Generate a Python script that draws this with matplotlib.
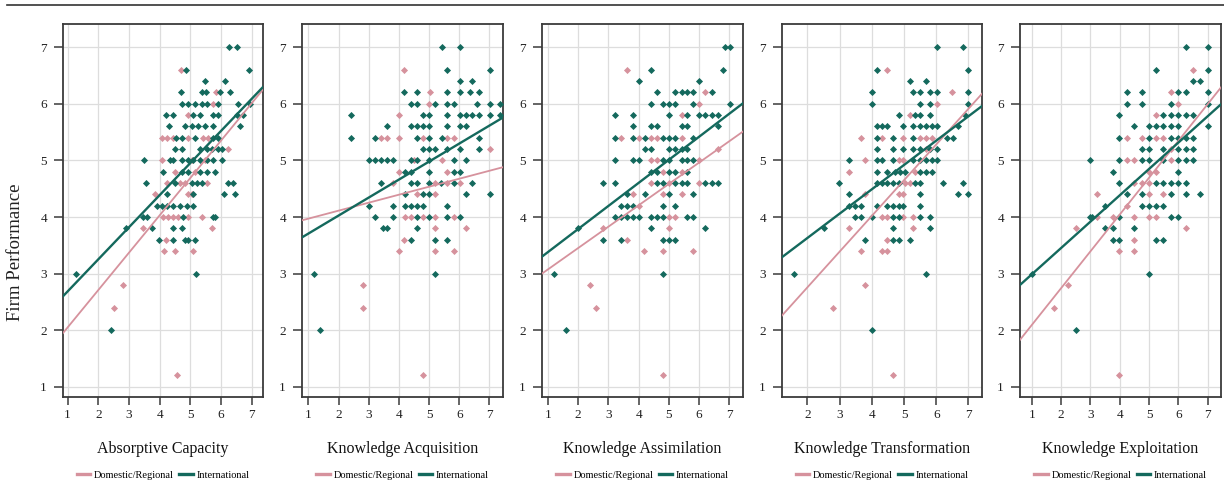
import matplotlib
matplotlib.use("Agg")
import matplotlib.pyplot as plt
from matplotlib.lines import Line2D
import numpy as np

plt.rcParams['font.family'] = ['Liberation Serif', 'DejaVu Serif']

# ---------------- data ----------------
panel_titles = ["Absorptive Capacity", "Knowledge Acquisition", "Knowledge Assimilation",
                "Knowledge Transformation", "Knowledge Exploitation"]
y_label = "Firm Performance"
group_labels = ["Domestic/Regional", "International"]
y_ticks = [1, 2, 3, 4, 5, 6, 7]
x_ticks_per_panel = [[1, 2, 3, 4, 5, 6, 7], [1, 2, 3, 4, 5, 6, 7], [1, 2, 3, 4, 5, 6, 7],
                     [2, 3, 4, 5, 6, 7], [1, 2, 3, 4, 5, 6, 7]]

# scatter points: {firm performance: [x values]}
ac_int = {7.0: [6.27, 6.51], 6.6: [4.85, 6.92], 6.4: [5.48, 6.13],
          6.2: [4.70, 5.37, 5.51, 5.97, 6.29],
          6.0: [4.72, 4.93, 5.15, 5.37, 5.53, 5.91, 6.57, 6.94],
          5.8: [4.21, 4.45, 5.10, 5.32, 5.75, 5.91, 6.51, 6.73],
          5.6: [4.32, 4.83, 5.04, 5.26, 5.48, 5.75, 6.62],
          5.4: [4.55, 4.72, 5.15, 5.75, 5.91],
          5.2: [4.50, 4.72, 5.32, 5.53, 5.70, 5.91, 6.02],
          5.0: [3.49, 4.34, 4.45, 4.72, 4.93, 5.10, 5.32, 5.53, 5.75, 6.02],
          4.8: [4.12, 4.72, 4.93, 5.32, 5.53, 5.80],
          4.6: [3.54, 4.50, 5.04, 5.21, 5.37, 6.24, 6.40],
          4.4: [4.23, 5.10, 6.10, 6.46],
          4.2: [3.90, 4.07, 4.23, 4.45, 4.66, 4.88, 5.10],
          4.0: [3.47, 3.58, 4.77, 5.75, 5.80],
          3.8: [2.92, 3.74, 4.45, 4.72],
          3.6: [3.98, 4.45, 4.83, 4.93, 5.15],
          3.0: [1.27, 5.17], 2.0: [2.41]}
ac_dom = {6.6: [4.70], 6.2: [5.84], 6.0: [5.75], 5.8: [4.93],
          5.4: [4.07, 4.23, 4.45, 4.93, 5.42, 5.59], 5.2: [6.24],
          5.0: [4.07, 5.04, 5.48], 4.8: [4.50, 5.15], 4.6: [4.23, 4.66, 4.83, 5.53],
          4.4: [3.85, 4.93, 5.04], 4.0: [4.12, 4.28, 4.45, 4.61, 4.93, 5.37],
          3.8: [3.47, 5.70], 3.6: [4.20], 3.4: [4.15, 4.50, 5.10],
          2.8: [2.82], 2.4: [2.51], 1.2: [4.58]}

ka_int = {7.0: [5.42, 6.03], 6.6: [5.61, 7.02], 6.4: [6.01, 6.41],
          6.2: [4.18, 4.59, 5.61, 6.01, 6.34, 6.64],
          6.0: [4.39, 4.59, 5.20, 5.61, 5.81, 6.60, 7.02, 7.35],
          5.8: [2.40, 4.79, 5.01, 5.61, 6.03, 6.23, 6.43, 6.65, 7.02, 7.35],
          5.6: [3.60, 4.39, 4.59, 4.81, 5.01, 5.61, 6.03, 6.23],
          5.4: [2.40, 3.21, 4.59, 5.01, 5.42, 6.64],
          5.2: [4.79, 5.01, 5.20, 5.61, 6.03, 6.64],
          5.0: [3.00, 3.20, 3.40, 3.60, 3.80, 4.39, 4.59, 5.01, 5.81, 6.23],
          4.8: [4.20, 4.39, 5.01, 5.81, 6.03],
          4.6: [3.40, 4.39, 4.59, 5.01, 5.41, 5.81, 6.41],
          4.4: [4.20, 4.81, 5.01, 6.23, 7.02],
          4.2: [3.00, 3.80, 4.20, 4.39, 4.59, 4.81, 5.61],
          4.0: [3.20, 3.80, 4.59, 5.01, 5.61, 6.03],
          3.8: [3.49, 3.60, 4.59], 3.6: [4.39, 5.20, 5.61],
          3.0: [1.20, 5.20], 2.0: [1.39]}
ka_dom = {6.6: [4.18], 6.2: [5.03], 6.0: [5.01], 5.8: [4.02],
          5.4: [3.40, 3.60, 4.02, 4.79, 5.61, 5.81], 5.2: [7.02],
          5.0: [4.50, 5.42], 4.8: [4.02, 5.61], 4.6: [3.82, 5.20, 5.61, 6.03],
          4.4: [4.59, 5.20], 4.0: [4.20, 4.39, 4.81, 5.20, 5.81],
          3.8: [5.20, 6.23], 3.6: [4.18], 3.4: [4.02, 5.20, 5.81],
          2.8: [2.80], 2.4: [2.80], 1.2: [4.79]}

kas_int = {7.0: [6.86, 7.02], 6.6: [4.40, 6.80], 6.4: [4.02, 6.01],
           6.2: [4.60, 5.21, 5.42, 5.61, 5.81, 6.42],
           6.0: [4.40, 4.80, 5.02, 5.21, 5.81, 7.02],
           5.8: [3.21, 3.81, 5.02, 5.61, 6.01, 6.21, 6.42, 6.62],
           5.6: [3.81, 4.40, 4.60, 5.42, 5.61, 6.62],
           5.4: [3.21, 3.81, 4.22, 4.80, 5.02, 5.21, 5.81],
           5.2: [4.22, 4.40, 5.02, 5.21, 5.42, 5.61],
           5.0: [3.21, 3.81, 4.02, 4.80, 5.02, 5.42, 5.61, 5.81],
           4.8: [4.40, 4.60, 5.02, 5.21, 5.61],
           4.6: [2.82, 3.21, 4.60, 4.80, 5.21, 5.42, 5.61, 6.21, 6.42, 6.62],
           4.4: [3.61, 4.22, 5.02, 5.81],
           4.2: [3.41, 3.61, 3.81, 4.80, 5.21],
           4.0: [3.21, 3.41, 3.61, 3.81, 4.02, 4.40, 4.60, 4.80, 5.61, 5.81],
           3.8: [2.01, 4.40, 6.21], 3.6: [2.82, 3.41, 4.80, 5.02, 5.21],
           3.0: [1.22, 4.80], 2.0: [1.61]}
kas_dom = {6.6: [3.61], 6.2: [6.21], 6.0: [6.01], 5.8: [5.42],
           5.4: [3.41, 4.02, 4.40, 4.60, 5.42], 5.2: [6.62],
           5.0: [4.40, 4.60, 6.01], 4.8: [4.80, 5.42], 4.6: [4.40, 5.02, 6.01],
           4.4: [3.81, 4.80, 5.42], 4.2: [4.02], 4.0: [5.02, 5.21],
           3.8: [2.82, 5.02], 3.6: [3.61], 3.4: [4.19, 4.80, 5.81],
           2.8: [2.40], 2.4: [2.60], 1.2: [4.80]}

kt_int = {7.0: [6.02, 6.84], 6.6: [4.15, 7.00], 6.4: [5.19, 5.69],
          6.2: [4.00, 5.29, 5.50, 5.81, 6.02, 7.00],
          6.0: [4.00, 5.50, 5.81, 7.00],
          5.8: [4.83, 5.34, 5.50, 5.81, 6.90],
          5.6: [4.15, 4.31, 4.46, 4.98, 5.29, 5.50, 5.69, 5.86, 6.02, 6.69],
          5.4: [4.15, 4.65, 5.29, 6.33, 6.51],
          5.2: [4.15, 4.65, 4.98, 5.29, 5.50, 5.81, 6.02],
          5.0: [3.29, 4.15, 4.31, 4.65, 5.29, 5.50, 5.69, 5.86, 6.02],
          4.8: [4.15, 4.46, 4.72, 4.88, 5.03, 5.50, 5.69, 5.86],
          4.6: [2.99, 4.15, 4.31, 4.46, 4.65, 4.83, 5.34, 5.50, 6.22, 6.84],
          4.4: [3.29, 5.50, 6.69, 7.00],
          4.2: [3.29, 3.48, 3.67, 4.15, 4.46, 4.65, 4.83, 4.98, 5.50],
          4.0: [3.48, 3.67, 4.00, 4.65, 4.83, 5.50, 5.81],
          3.8: [2.50, 4.65, 5.81], 3.6: [3.79, 4.65, 4.83, 5.19],
          3.0: [1.57, 5.69], 2.0: [4.00]}
kt_dom = {6.6: [4.46], 6.2: [6.50], 6.0: [6.02], 5.8: [5.19],
          5.4: [3.67, 4.31, 4.98, 5.50, 5.69, 5.86], 5.2: [5.69],
          5.0: [3.79, 4.83, 4.98], 4.8: [3.29, 5.34], 4.6: [5.03, 5.19],
          4.4: [3.79, 4.83, 4.98], 4.0: [4.31, 4.46, 4.98, 5.29],
          3.8: [3.29, 5.29], 3.6: [4.46], 3.4: [3.67, 4.31, 4.46],
          2.8: [3.79], 2.4: [2.79], 1.2: [4.67]}

ke_int = {7.0: [6.26, 7.00], 6.6: [5.24, 7.00], 6.4: [6.49, 6.74],
          6.2: [4.23, 4.76, 6.00, 6.26, 7.00],
          6.0: [4.23, 4.76, 5.74, 7.00],
          5.8: [3.98, 5.49, 5.74, 6.00, 6.26, 6.49],
          5.6: [4.50, 5.00, 5.24, 5.49, 5.74, 6.00, 7.00],
          5.4: [3.98, 5.00, 5.74, 6.00, 6.26, 6.49],
          5.2: [4.76, 5.00, 5.49, 6.00, 6.26, 6.49],
          5.0: [3.00, 3.98, 4.76, 5.00, 5.49, 6.00, 6.26, 6.49],
          4.8: [3.76, 6.00],
          4.6: [3.98, 5.24, 5.49, 5.74, 6.00, 6.26],
          4.4: [4.23, 4.76, 5.74, 6.26, 6.74],
          4.2: [3.49, 4.76, 5.00, 5.24, 5.49],
          4.0: [3.00, 3.07, 3.98, 5.74, 6.00],
          3.8: [3.49, 3.76, 4.50], 3.6: [3.76, 3.98, 5.24, 5.49],
          3.0: [1.00, 5.00], 2.0: [2.50]}
ke_dom = {6.6: [6.49], 6.2: [5.74], 6.0: [6.00], 5.8: [5.24],
          5.4: [4.23, 4.76, 5.24, 5.49], 5.2: [5.74],
          5.0: [4.23, 4.50, 5.74], 4.8: [5.00, 5.24], 4.6: [4.50, 4.76, 5.00],
          4.4: [3.23, 5.00, 5.49], 4.2: [4.23], 4.0: [3.23, 3.76, 4.50, 5.00, 5.24],
          3.8: [2.50, 6.26], 3.6: [4.50], 3.4: [3.98, 4.50],
          2.8: [2.24], 2.4: [1.75], 1.2: [3.98]}

int_points = [ac_int, ka_int, kas_int, kt_int, ke_int]
dom_points = [ac_dom, ka_dom, kas_dom, kt_dom, ke_dom]

# fitted regression lines (intercept, slope)
int_intercept = [2.118, 3.389, 2.970, 2.770, 2.520]
int_slope = [0.567, 0.318, 0.408, 0.430, 0.466]
dom_intercept = [1.389, 3.830, 2.694, 1.496, 1.440]
dom_slope = [0.660, 0.141, 0.378, 0.631, 0.651]

# ---------------- style / layout ----------------
W, H = 1224, 496
TEAL = "#14695d"
PINK = "#d6929d"
FRAME = "#3a3a3a"
panel_px = [(63, 263), (302, 503), (542, 743), (782, 982), (1020, 1221)]
xlims = [(0.85, 7.37), (0.79, 7.45), (0.81, 7.45), (1.21, 7.42), (0.60, 7.45)]
ylim = (0.82, 7.41)
top_px, bot_px = 24, 397


def flatten(d):
    xs, ys = [], []
    for yv, xl in d.items():
        for xv in xl:
            xs.append(xv)
            ys.append(yv)
    return np.array(xs), np.array(ys)


fig = plt.figure(figsize=(W / 100, H / 100), dpi=100)

for i in range(5):
    l, r = panel_px[i]
    ax = fig.add_axes([l / W, (H - bot_px) / H, (r - l) / W, (bot_px - top_px) / H])
    ax.set_xlim(*xlims[i])
    ax.set_ylim(*ylim)
    ax.set_xticks(x_ticks_per_panel[i])
    ax.set_yticks(y_ticks)
    ax.grid(True, color="#dddddd", linewidth=0.9)
    ax.set_axisbelow(True)
    for s in ax.spines.values():
        s.set_color(FRAME)
        s.set_linewidth(1.3)
    ax.tick_params(axis="y", direction="out", length=6.5, width=1.1, color=FRAME, pad=5,
                   labelsize=9.5, labelcolor="#222222")
    ax.tick_params(axis="x", direction="out", length=5.5, width=1.1, color=FRAME, pad=3.5,
                   labelsize=9.5, labelcolor="#222222")

    dx, dy = flatten(dom_points[i])
    ix, iy = flatten(int_points[i])
    ax.scatter(dx, dy, marker="D", s=13, color=PINK, linewidths=0, zorder=3)
    ax.scatter(ix, iy, marker="D", s=13, color=TEAL, linewidths=0, zorder=3)

    xx = np.array(xlims[i])
    ax.plot(xx, dom_intercept[i] + dom_slope[i] * xx, color=PINK, lw=1.3, zorder=4)
    ax.plot(xx, int_intercept[i] + int_slope[i] * xx, color=TEAL, lw=1.7, zorder=5)

    cx = (l + r) / 2 / W
    fig.text(cx, 1 - 449 / H, panel_titles[i], ha="center", va="center",
             fontsize=11.5, color="#111111")
    handles = [Line2D([], [], color=PINK, lw=2.4), Line2D([], [], color=TEAL, lw=2.4)]
    fig.legend(handles, group_labels, loc="center", bbox_to_anchor=(cx, 1 - 475 / H),
               ncol=2, frameon=False, fontsize=7.5, handlelength=1.3, handletextpad=0.35,
               columnspacing=0.5, borderpad=0)

fig.text(16 / W, 1 - 252 / H, y_label, rotation=90, ha="center", va="center",
         fontsize=13.5, color="#222222")

fig.add_artist(Line2D([7 / W, 1.0], [1 - 5 / H, 1 - 5 / H], color="#333333", lw=1.2))

fig.savefig("out.png", dpi=100, facecolor="white")
